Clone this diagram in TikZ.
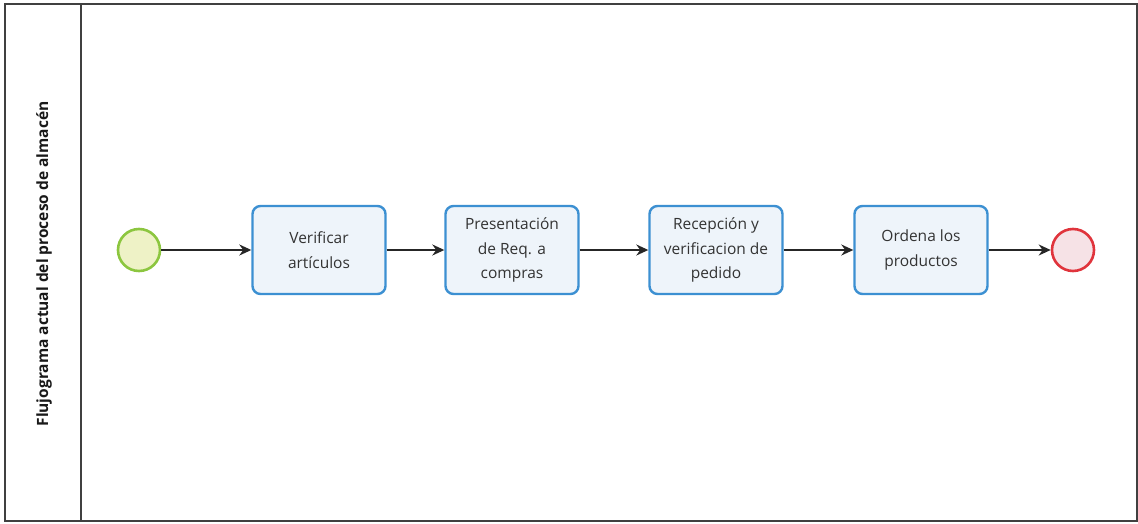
\documentclass[tikz,border=0pt]{standalone}
\usepackage{fontspec}
\setmainfont{Open Sans}
\usetikzlibrary{arrows.meta}
\definecolor{boxblue}{HTML}{3C90D2}
\definecolor{boxfill}{HTML}{EEF4FA}
\definecolor{startgreen}{HTML}{8CC63F}
\definecolor{startfill}{HTML}{EEF2C6}
\definecolor{endred}{HTML}{E0343C}
\definecolor{endfill}{HTML}{F6E2E6}
\definecolor{framegray}{HTML}{404040}
\tikzset{
  task/.style={draw=boxblue, line width=2.4pt, fill=boxfill, rounded corners=8pt,
    minimum width=133pt, minimum height=88pt, align=center, inner sep=2pt,
    font=\fontsize{15.5pt}{24.5pt}\selectfont, text=black!80},
  startev/.style={circle, draw=startgreen, line width=2.6pt, fill=startfill, minimum size=42pt, inner sep=0pt},
  endev/.style={circle, draw=endred, line width=2.6pt, fill=endfill, minimum size=42pt, inner sep=0pt},
  flow/.style={draw=black!85, line width=1.7pt, -{Stealth[length=12pt,width=11pt]}},
  frame/.style={draw=framegray, line width=1.5pt}
}
\begin{document}
\begin{tikzpicture}[x=1pt,y=-1pt]
\useasboundingbox (0,0) rectangle (1138,524);
\fill[white] (0,0) rectangle (1138,524);
\draw[frame] (5,4) rectangle (1137,521);
\draw[frame] (81,4) -- (81,521);
\node[rotate=90, font=\bfseries\fontsize{15.5pt}{18pt}\selectfont, text=black!90] (title) at (44,264) {Flujograma actual del proceso de almacén};
\node[startev] (start) at (139,250) {};
\node[task] (t1) at (319,250) {Verificar\\artículos};
\node[task] (t2) at (512,250) {Presentación\\de Req. a\\compras};
\node[task] (t3) at (716,250) {Recepción y\\verificacion de\\pedido};
\node[task] (t4) at (921,250) {Ordena los\\productos};
\node[endev] (end) at (1073,250) {};
\draw[flow] (start) -- (t1);
\draw[flow] (t1) -- (t2);
\draw[flow] (t2) -- (t3);
\draw[flow] (t3) -- (t4);
\draw[flow] (t4) -- (end);
\end{tikzpicture}
\end{document}
